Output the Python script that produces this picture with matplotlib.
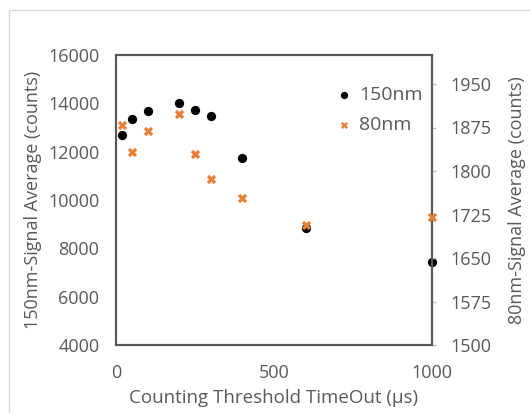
import matplotlib
matplotlib.use("Agg")
import matplotlib.pyplot as plt
from matplotlib.patches import Rectangle

threshold = [20, 50, 100, 200, 250, 300, 400, 600, 1000]
signal_150nm = [12700, 13350, 13680, 14000, 13720, 13470, 11720, 8850, 7450]
signal_80nm = [1880, 1832, 1869, 1898, 1829, 1786, 1753, 1707, 1720]

left_ticks = [4000, 6000, 8000, 10000, 12000, 14000, 16000]
right_ticks = [1500, 1575, 1650, 1725, 1800, 1875, 1950]
x_ticks = [0, 500, 1000]

plt.rcParams['font.family'] = ['Open Sans', 'DejaVu Sans']
gray = '#595959'
orange = '#ED7D31'

fig = plt.figure(figsize=(5.30, 4.13), dpi=100)
fig.patches.append(Rectangle((9/530, -0.1), 1.2, 1 - 10/413 + 0.1, transform=fig.transFigure,
                             fill=False, edgecolor='#d9d9d9', linewidth=1.0))
ax = fig.add_axes([116/530, 1 - 345/413, 316/530, 290/413])
ax2 = ax.twinx()

ax.scatter(threshold, signal_150nm, s=32, color='black', zorder=3, clip_on=False, label='150nm')
ax2.scatter(threshold, signal_80nm, s=45, marker='X', color=orange, zorder=3, clip_on=False,
            label='80nm', linewidths=0)

ax.set_xlim(0, 1000)
ax.set_ylim(4000, 16000)
ax2.set_ylim(1500, 2000)
ax.set_xticks(x_ticks)
ax.set_yticks(left_ticks)
ax2.set_yticks(right_ticks)

for a in (ax, ax2):
    for s in a.spines.values():
        s.set_color(gray)
        s.set_linewidth(1.5)
ax.tick_params(axis='x', length=0, labelsize=13, colors=gray, pad=14)
ax.tick_params(axis='y', length=0, labelsize=13, colors=gray, pad=12)
ax2.tick_params(axis='y', length=3, width=1, color='#bfbfbf', labelsize=13, labelcolor=gray, pad=10)

ax.set_xlabel('Counting Threshold TimeOut (µs)', fontsize=13.5, color=gray, labelpad=5)
ax.set_ylabel('150nm-Signal Average (counts)', fontsize=13, color=gray, labelpad=4)
ax2.set_ylabel('80nm-Signal Average (counts)', fontsize=13, color=gray, labelpad=12)

h1, l1 = ax.get_legend_handles_labels()
h2, l2 = ax2.get_legend_handles_labels()
ax2.legend(h1 + h2, l1 + l2, loc='upper left', bbox_to_anchor=(0.696, 0.893), frameon=False,
           fontsize=14, labelcolor=gray, handlelength=0.8, handletextpad=0.4, markerscale=0.75,
           labelspacing=0.6, borderaxespad=0, borderpad=0)

fig.savefig('out.png', dpi=100)
